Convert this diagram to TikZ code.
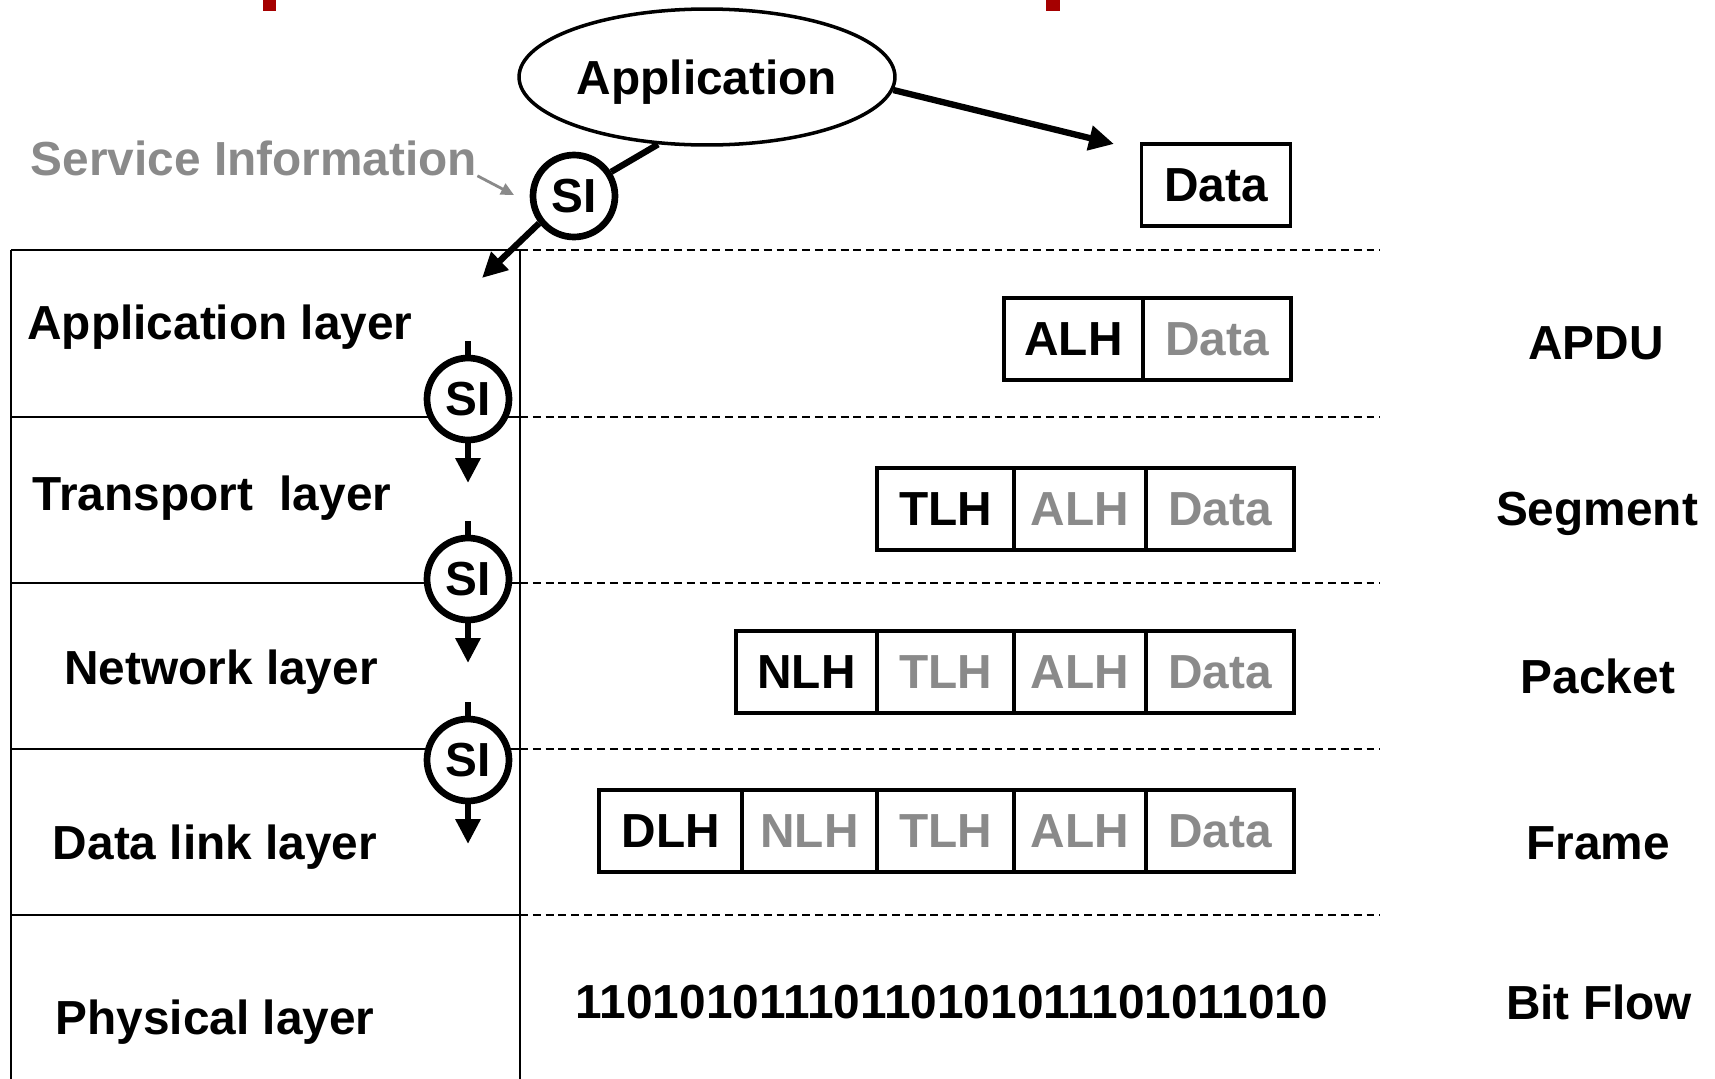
\documentclass[tikz,border=0pt]{standalone}
\usepackage{fontspec}
\setmainfont{Liberation Sans}
\usetikzlibrary{arrows.meta,positioning,shapes.geometric}

\definecolor{hdgray}{HTML}{8A8A8A}
\definecolor{titlered}{HTML}{A50000}

\begin{document}
\begin{tikzpicture}[x=0.02cm,y=-0.02cm,>={Triangle[length=0.5cm,width=0.48cm]},
	every node/.style={font=\fontsize{27.2}{32}\selectfont\bfseries},
	cell/.style={draw,line width=2pt,minimum width=#1,minimum height=1.64cm,inner sep=0pt,outer sep=0pt},
	pay/.style={cell=#1,text=hdgray},
	si/.style={circle,draw,line width=3.8pt,fill=white,minimum size=1.64cm,inner sep=0pt},
	layerline/.style={line width=1.1pt},
	rowsep/.style={dashed,line width=1pt,dash pattern=on 4.5pt off 2.8pt},
	flow/.style={->,line width=3.6pt}]
	\useasboundingbox (0,0) rectangle (1715,1079);
	% title remnants
	\fill[titlered] (263,0) rectangle (276,11);
	\fill[titlered] (1046,0) rectangle (1060,11);
	% layer frame
	\foreach \y in {250,417,583,749,915}{
		\draw[layerline] (11,\y) -- (520,\y);
		\draw[rowsep] (520,\y) -- (1380,\y);
	}
	\draw[layerline] (11,250) -- (11,1079) (520,250) -- (520,1079);
	% application
	\node[ellipse,draw,line width=2pt,inner sep=0pt,minimum width=7.52cm,minimum height=2.72cm,text depth=0pt] (app) at (707,77) {Application};
	\node[cell=2.98cm] (data0) at (1216,185) {Data};
	\node[si] (si0) at (574,196) {SI};
	\node[text=hdgray,anchor=base,inner sep=0pt] (silbl) at (254,175) {Service Information};
	\coordinate (dataIn) at (1114,144);
	\coordinate (appIn) at (482,278);
	\coordinate (silblTip) at (514,195);
	\draw[flow] (app.-4) -- (dataIn);
	\draw[line width=3.6pt] (app.234) -- (si0.33);
	\draw[flow] (si0.218) -- (appIn);
	\draw[->,hdgray,line width=1.6pt,>={Triangle[length=0.26cm,width=0.24cm]}] (silbl.south east) -- (silblTip);
	% APDU
	\node[pay=2.96cm,anchor=east] (data1) at (1291,339) {Data};
	\node[cell=2.78cm,left=0pt of data1] (alh1) {ALH};
	% Segment
	\node[pay=2.96cm,anchor=east] (data2) at (1294,509) {Data};
	\node[pay=2.64cm,left=0pt of data2] (alh2) {ALH};
	\node[cell=2.74cm,left=0pt of alh2] (tlh2) {TLH};
	% Packet
	\node[pay=2.96cm,anchor=east] (data3) at (1294,672) {Data};
	\node[pay=2.64cm,left=0pt of data3] (alh3) {ALH};
	\node[pay=2.74cm,left=0pt of alh3] (tlh3) {TLH};
	\node[cell=2.82cm,left=0pt of tlh3] (nlh3) {NLH};
	% Frame
	\node[pay=2.96cm,anchor=east] (data4) at (1294,831) {Data};
	\node[pay=2.64cm,left=0pt of data4] (alh4) {ALH};
	\node[pay=2.74cm,left=0pt of alh4] (tlh4) {TLH};
	\node[pay=2.70cm,left=0pt of tlh4] (nlh4) {NLH};
	\node[cell=2.86cm,left=0pt of nlh4] (dlh4) {DLH};
	% layer names
	\node[anchor=base] (appL) at (220,339) {Application layer};
	\node[anchor=base] (traL) at (212,510) {Transport\ \ layer};
	\node[anchor=base] (netL) at (221,684) {Network layer};
	\node[anchor=base] (dllL) at (215,859) {Data link layer};
	\node[anchor=base] (phyL) at (215,1034) {Physical layer};
	% unit names
	\node[anchor=base] (apdu) at (1596,359) {APDU};
	\node[anchor=base] (seg) at (1597,525) {Segment};
	\node[anchor=base] (pkt) at (1598,693) {Packet};
	\node[anchor=base] (frm) at (1598,859) {Frame};
	\node[anchor=base] (bits) at (1599,1019) {Bit Flow};
	\node[anchor=base] (bitstr) at (952,1018) {11010101110110101011101011010};
	% service information between layers
	\foreach \n/\y in {1/399,2/579,3/760}{
		\node[si] (si\n) at (468,\y) {SI};
		\coordinate (top\n) at (468,\y-58);
		\coordinate (tip\n) at (468,\y+84);
		\draw[line width=3.6pt] (top\n) -- (si\n.north);
		\draw[flow] (si\n.south) -- (tip\n);
	}
\end{tikzpicture}
\end{document}
